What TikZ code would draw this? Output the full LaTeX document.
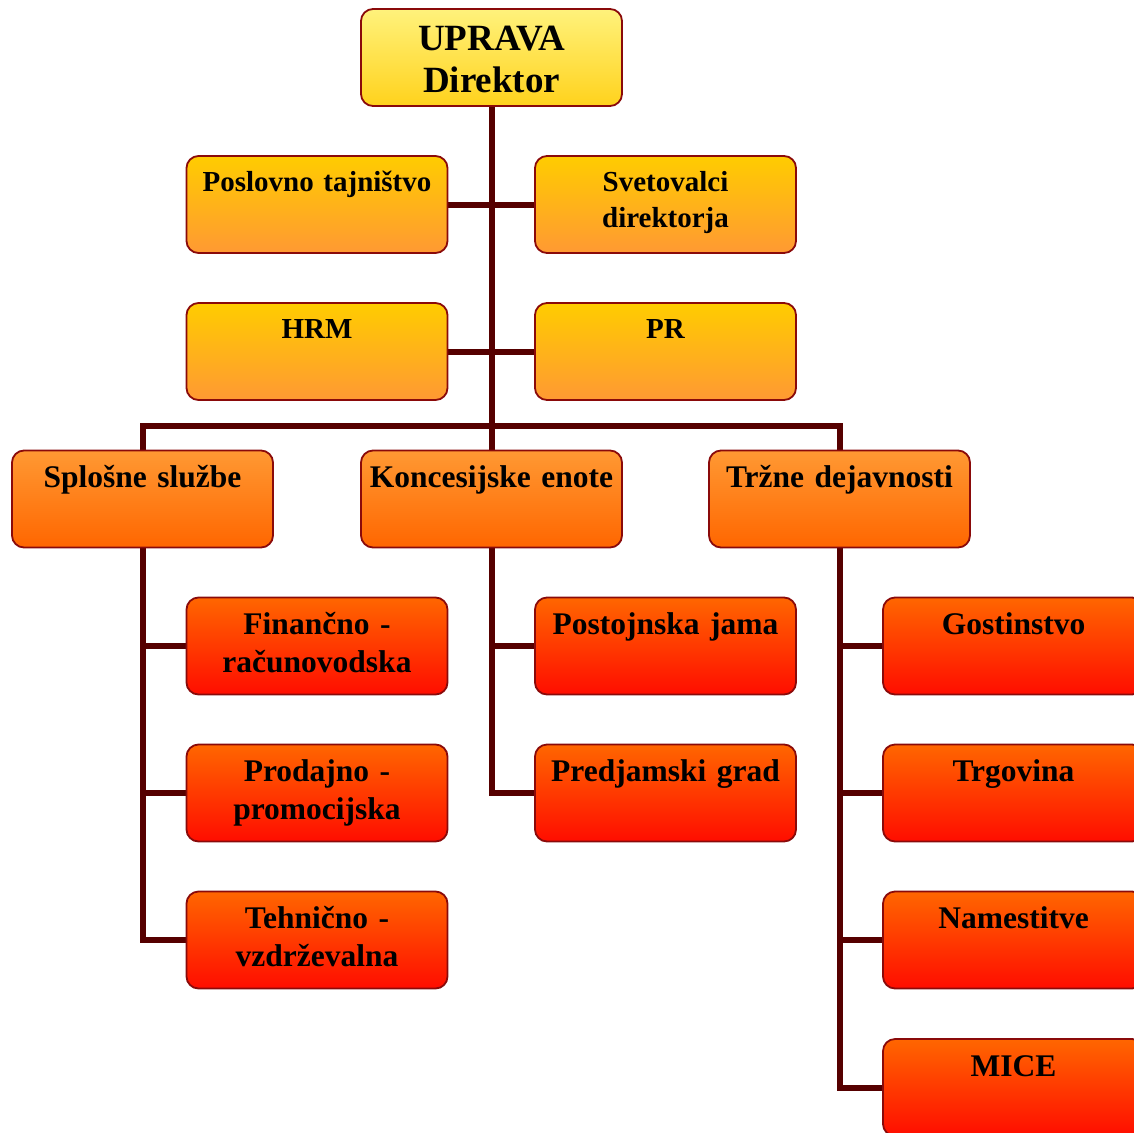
\documentclass[tikz,border=0pt]{standalone}
\usepackage{fontspec}
\setmainfont{Liberation Serif}
\usetikzlibrary{backgrounds}
\definecolor{lineC}{HTML}{560000}
\definecolor{borderC}{HTML}{8A0A0A}
\definecolor{aTop}{HTML}{FFF27C}
\definecolor{aBot}{HTML}{FFD21C}
\definecolor{bTop}{HTML}{FFCC00}
\definecolor{bBot}{HTML}{FF9933}
\definecolor{cTop}{HTML}{FF9933}
\definecolor{cBot}{HTML}{FF6600}
\definecolor{dTop}{HTML}{FF6600}
\definecolor{dBot}{HTML}{FF0D00}
\tikzset{
  box/.style={rectangle, rounded corners=12pt, draw=borderC, line width=1.8pt,
    minimum width=261pt, minimum height=97pt, inner sep=0pt},
  lvA/.style={box, top color=aTop, bottom color=aBot},
  lvB/.style={box, top color=bTop, bottom color=bBot},
  lvC/.style={box, top color=cTop, bottom color=cBot},
  lvD/.style={box, top color=dTop, bottom color=dBot},
  lbl/.style={anchor=base, inner sep=0pt, text width=255pt, align=center},
  lblA/.style={lbl, font=\fontsize{37}{42}\selectfont\bfseries},
  lblB/.style={lbl, font=\fontsize{29}{36}\selectfont\bfseries},
  lblC/.style={lbl, font=\fontsize{31.5}{37.5}\selectfont\bfseries},
  conn/.style={draw=lineC, line width=6pt},
}
\begin{document}
\begin{tikzpicture}[x=1pt,y=-1pt]
\useasboundingbox (0,0) rectangle (1134,1132);
\clip (0,0) rectangle (1134,1132);
% boxes
\node[lvA] (upr) at (491.5,57.5) {};
\node[lvB] (pt)  at (317,204.5) {};
\node[lvB] (sv)  at (665.5,204.5) {};
\node[lvB] (hrm) at (317,351.5) {};
\node[lvB] (pr)  at (665.5,351.5) {};
\node[lvC] (spl) at (142.5,499) {};
\node[lvC] (kon) at (491.5,499) {};
\node[lvC] (trz) at (839.5,499) {};
\node[lvD] (fin) at (317,646) {};
\node[lvD] (prod) at (317,793) {};
\node[lvD] (teh) at (317,940) {};
\node[lvD] (pj)  at (665.5,646) {};
\node[lvD] (pg)  at (665.5,793) {};
\node[lvD] (gos) at (1013.5,646) {};
\node[lvD] (trg) at (1013.5,793) {};
\node[lvD] (nam) at (1013.5,940) {};
\node[lvD] (mice) at (1013.5,1087.5) {};
% labels
\node[lblA] (tupr) at ([yshift=-42pt]upr.north) {UPRAVA\\Direktor};
\node[lblB] (tpt) at ([yshift=-36pt]pt.north) {Poslovno tajništvo};
\node[lblB] (tsv) at ([yshift=-36pt]sv.north) {Svetovalci\\direktorja};
\node[lblB] (thrm) at ([yshift=-36pt]hrm.north) {HRM};
\node[lblB] (tpr) at ([yshift=-36pt]pr.north) {PR};
\node[lblC] (tspl) at ([yshift=-38pt]spl.north) {Splošne službe};
\node[lblC] (tkon) at ([yshift=-38pt]kon.north) {Koncesijske enote};
\node[lblC] (ttrz) at ([yshift=-38pt]trz.north) {Tržne dejavnosti};
\node[lblC] (tfin) at ([yshift=-38pt]fin.north) {Finančno -\\računovodska};
\node[lblC] (tprod) at ([yshift=-38pt]prod.north) {Prodajno -\\promocijska};
\node[lblC] (tteh) at ([yshift=-38pt]teh.north) {Tehnično -\\vzdrževalna};
\node[lblC] (tpj) at ([yshift=-38pt]pj.north) {Postojnska jama};
\node[lblC] (tpg) at ([yshift=-38pt]pg.north) {Predjamski grad};
\node[lblC] (tgos) at ([yshift=-38pt]gos.north) {Gostinstvo};
\node[lblC] (ttrg) at ([yshift=-38pt]trg.north) {Trgovina};
\node[lblC] (tnam) at ([yshift=-38pt]nam.north) {Namestitve};
\node[lblC] (tmice) at ([yshift=-38pt]mice.north) {MICE};
% connectors
\coordinate (bus) at (491.5,426);
\begin{pgfonlayer}{background}
\draw[conn] (upr.south) -- (kon.north);
\draw[conn] (pt.east) -- (sv.west);
\draw[conn] (hrm.east) -- (pr.west);
\draw[conn] (spl.north) |- (bus) -| (trz.north);
\draw[conn] (spl.south) |- (teh.west);
\draw[conn] (fin.west) -- (fin.west -| spl.south);
\draw[conn] (prod.west) -- (prod.west -| spl.south);
\draw[conn] (kon.south) |- (pg.west);
\draw[conn] (pj.west) -- (pj.west -| kon.south);
\draw[conn] (trz.south) |- (mice.west);
\draw[conn] (gos.west) -- (gos.west -| trz.south);
\draw[conn] (trg.west) -- (trg.west -| trz.south);
\draw[conn] (nam.west) -- (nam.west -| trz.south);
\end{pgfonlayer}
\end{tikzpicture}
\end{document}
